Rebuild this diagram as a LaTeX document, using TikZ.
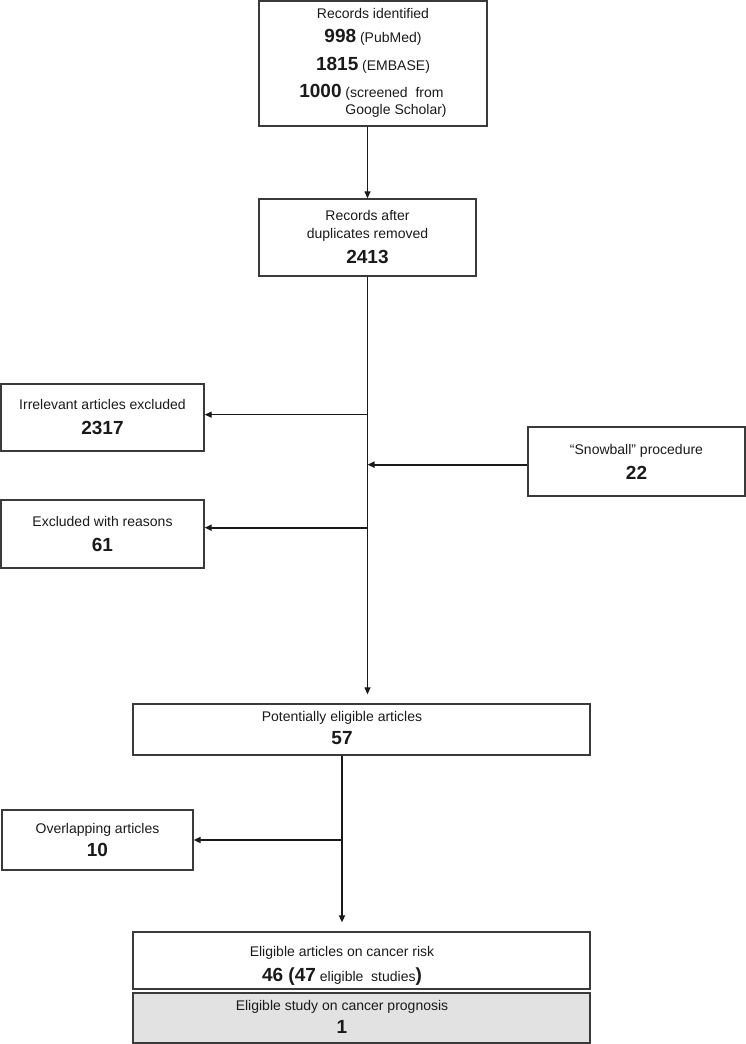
\documentclass[tikz,border=0pt]{standalone}
\usepackage{fontspec}
\setmainfont{Liberation Sans}
\usetikzlibrary{arrows.meta,calc}
\definecolor{ink}{HTML}{1A1A1A}
\definecolor{frame}{HTML}{3A3A3A}
\definecolor{shade}{HTML}{E2E2E2}
\newcommand{\cnt}[1]{{\fontsize{19}{25}\selectfont\bfseries #1}}

\begin{document}
\begin{tikzpicture}[x=1pt, y={(0pt,-1pt)}, font=\fontsize{14}{25}\selectfont, text=ink,
    box/.style={draw=frame, line width=1.3pt, inner sep=0pt, align=center},
    boxtxt/.style={inner sep=0pt, align=center},
    arr/.style={-{Triangle[length=7pt,width=6pt]}, line width=1.2pt, draw=ink},
    arrb/.style={arr, line width=2.1pt}]
  \useasboundingbox (0,0) rectangle (746,1044);

  % search and screening
  \node[box, minimum width=228pt, minimum height=125pt] (ident) at (373,63.5)
    {Records identified\\[-1pt]
     \cnt{998} (PubMed)\\[3pt]
     \cnt{1815} (EMBASE)\\[2pt]
     \cnt{1000} {\def\arraystretch{0.68}\begin{tabular}[t]{@{}l@{}}(screened\ \ from\\Google Scholar)\end{tabular}}};
  \node[box, minimum width=217pt, minimum height=77pt] (dedup) at (367.5,237.5)
    {Records after\\[-7pt] duplicates removed\\ \cnt{2413}};

  \node[box, minimum width=203pt, minimum height=67pt] (irrel) at (102.5,417.5)
    {Irrelevant articles excluded\\ \cnt{2317}};
  \node[box, minimum width=217pt, minimum height=69pt] (snow) at (636.5,461.5)
    {``Snowball'' procedure\\ \cnt{22}};
  \node[box, minimum width=203pt, minimum height=68pt] (reasons) at (102.5,534)
    {Excluded with reasons\\ \cnt{61}};

  % eligibility
  \node[box, minimum width=457pt, minimum height=51pt] (potent) at (361.5,729.5) {};
  \node[boxtxt] (potentT) at (342,728) {Potentially eligible articles\\[-2pt] \cnt{57}};
  \node[box, minimum width=191pt, minimum height=60pt] (overlap) at (97.5,840)
    {Overlapping articles\\[-2pt] \cnt{10}};

  \node[box, minimum width=457pt, minimum height=57pt] (risk) at (361.5,960.5) {};
  \node[boxtxt] (riskT) at (342,966) {Eligible articles on cancer risk\\ \cnt{46 (47} eligible\ \ studies\cnt{)}};
  \node[box, fill=shade, minimum width=457pt, minimum height=50pt] (progn) at (361.5,1018) {};
  \node[boxtxt] (prognT) at (342,1017) {Eligible study on cancer prognosis\\[-2pt] \cnt{1}};

  % connectors
  \draw[arr] (ident.south -| dedup) -- (dedup.north);
  \draw[arr, shorten >=9pt] (dedup.south) -- (potent.north -| dedup);
  \coordinate (j1) at ($(dedup.south)+(0,138)$);
  \coordinate (j2) at ($(dedup.south)+(0,188)$);
  \coordinate (j3) at ($(dedup.south)+(0,251)$);
  \draw[arr] (j1) -- (j1 -| irrel.east);
  \draw[arrb] (snow.west |- j2) -- (j2);
  \draw[arrb] (j3) -- (j3 -| reasons.east);

  \draw[arrb, shorten >=9pt] (potent.south -| potentT) -- (risk.north -| potentT);
  \coordinate (j4) at (potentT |- overlap);
  \draw[arrb] (j4) -- (overlap.east);
\end{tikzpicture}
\end{document}
